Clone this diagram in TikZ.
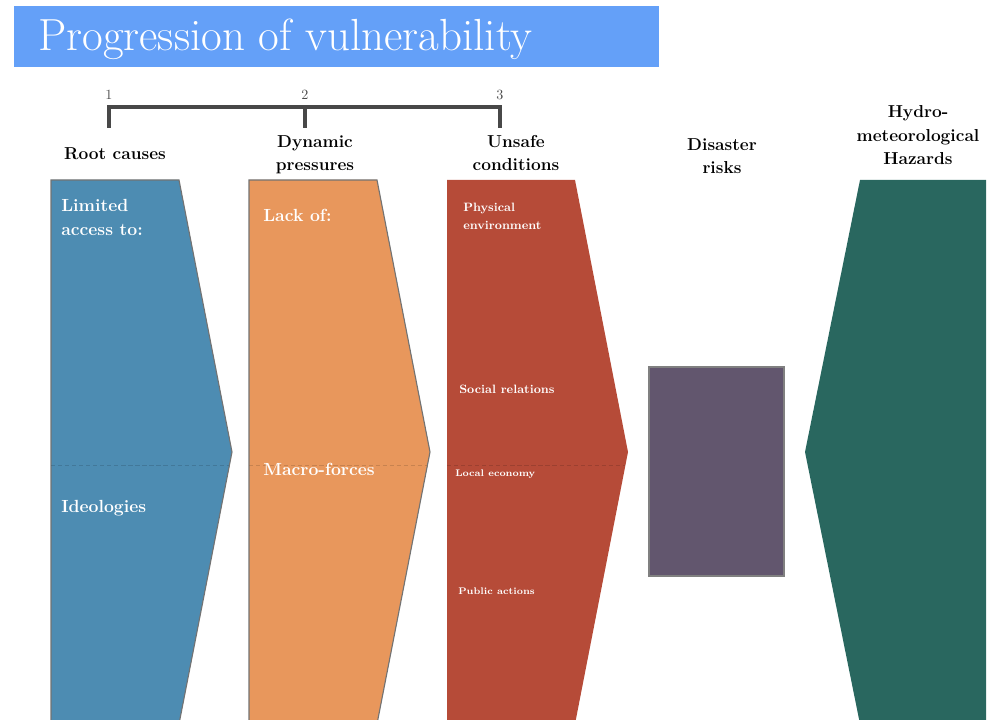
\documentclass[tikz,border=0pt]{standalone}
\usepackage{amsmath}
\usepackage{tikz}

\definecolor{titleblue}{HTML}{64A0F8}
\definecolor{rootblue}{HTML}{4D8CB2}
\definecolor{pressorange}{HTML}{E8975C}
\definecolor{unsafered}{HTML}{B64B38}
\definecolor{riskpurple}{HTML}{62566E}
\definecolor{hazardteal}{HTML}{29675F}
\definecolor{barline}{HTML}{484848}

\begin{document}
\begin{tikzpicture}[x=0.025cm,y=-0.025cm,
		head/.style={font=\fontsize{12.3}{17}\selectfont\bfseries,align=center,inner sep=0pt,anchor=base},
		inlabel/.style={text=white,font=\fontsize{12.5}{17.5}\selectfont\bfseries,align=left,inner sep=0pt,anchor=base west},
		smalllabel/.style={inlabel,font=\fontsize{8.6}{12.8}\selectfont\bfseries},
		tinylabel/.style={inlabel,font=\fontsize{6.8}{10}\selectfont\bfseries},
		ticknum/.style={above=5pt,inner sep=0pt,text=black!70,font=\fontsize{10}{11}\selectfont},
		outline/.style={draw=black!55,line width=0.8pt},
		seam/.style={densely dashed,line width=0.4pt,opacity=0.35}]
	\useasboundingbox (0,0) rectangle (993,720);
	% title bar
	\fill[titleblue] (14,6) rectangle (659,67);
	\node[anchor=base west,inner sep=0pt,text=white,font=\fontsize{32}{36}\selectfont] (title) at (38,51) {Progression of vulnerability};
	% scale bar
	\coordinate (t1) at (109,107);
	\coordinate (t2) at (305,107);
	\coordinate (t3) at (500,107);
	\draw[barline,line width=2.2pt] (t1) ++(0,21) -- (t1) -- (t3) -- ++(0,21);
	\draw[barline,line width=2.2pt] (t2) -- ++(0,21);
	\node[ticknum] (n1) at (t1) {1};
	\node[ticknum] (n2) at (t2) {2};
	\node[ticknum] (n3) at (t3) {3};
	% headings (base = last line)
	\node[head] (root) at (115,160) {Root causes};
	\node[head] (press) at (315,171) {Dynamic\\pressures};
	\node[head] (unsafe) at (516,171) {Unsafe\\conditions};
	\node[head] (risk) at (722,174) {Disaster\\risks};
	\node[head] (hazard) at (918,165) {Hydro-\\meteorological\\Hazards};
	% blocks
	\filldraw[fill=rootblue,outline] (51,180) -- (179,180) -- (232,452) -- (179,724) -- (51,724) -- cycle;
	\filldraw[fill=pressorange,outline] (249,180) -- (377,180) -- (430,452) -- (377,724) -- (249,724) -- cycle;
	\fill[unsafered] (447,180) -- (575,180) -- (628,452) -- (575,724) -- (447,724) -- cycle;
	\draw[seam,rootblue!60!black] (51,465) -- (229,465);
	\draw[seam,pressorange!60!black] (249,465) -- (427,465);
	\draw[seam,unsafered!60!black] (447,465) -- (625,465);
	\filldraw[fill=riskpurple,draw=black!50,line width=0.8pt] (649,367) rectangle (784,576);
	\fill[hazardteal] (860,180) -- (986,180) -- (986,724) -- (860,724) -- (805,452) -- cycle;
	% texts in blocks
	\node[inlabel] (access) at (61,236) {Limited\\access to:};
	\node[inlabel] (ideo) at (61,513) {Ideologies};
	\node[inlabel] (lack) at (263,222) {Lack of:};
	\node[inlabel] (macro) at (263,476) {Macro-forces};
	\node[smalllabel] (phys) at (463,230) {Physical\\environment};
	\node[smalllabel] (social) at (459,394) {Social relations};
	\node[tinylabel] (econ) at (455,477) {Local economy};
	\node[tinylabel] (public) at (458,594) {Public actions};
\end{tikzpicture}
\end{document}
